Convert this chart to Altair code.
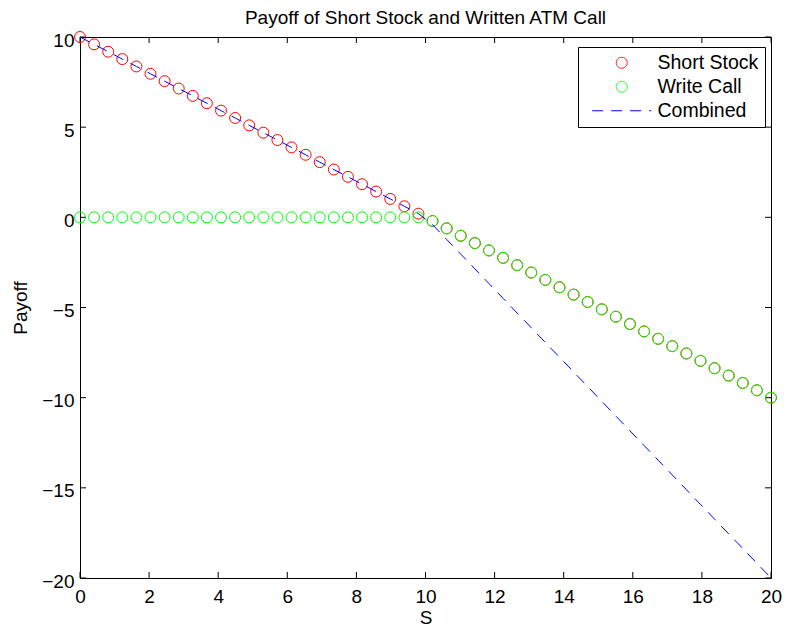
import altair as alt
import pandas as pd

# ---- data ----
S = [0.000, 0.408, 0.816, 1.224, 1.633, 2.041, 2.449, 2.857, 3.265, 3.673,
     4.082, 4.490, 4.898, 5.306, 5.714, 6.122, 6.531, 6.939, 7.347, 7.755,
     8.163, 8.571, 8.980, 9.388, 9.796, 10.204, 10.612, 11.020, 11.429, 11.837,
     12.245, 12.653, 13.061, 13.469, 13.878, 14.286, 14.694, 15.102, 15.510, 15.918,
     16.327, 16.735, 17.143, 17.551, 17.959, 18.367, 18.776, 19.184, 19.592, 20.000]

short_stock = [10.000, 9.592, 9.184, 8.776, 8.367, 7.959, 7.551, 7.143, 6.735, 6.327,
               5.918, 5.510, 5.102, 4.694, 4.286, 3.878, 3.469, 3.061, 2.653, 2.245,
               1.837, 1.429, 1.020, 0.612, 0.204, -0.204, -0.612, -1.020, -1.429, -1.837,
               -2.245, -2.653, -3.061, -3.469, -3.878, -4.286, -4.694, -5.102, -5.510, -5.918,
               -6.327, -6.735, -7.143, -7.551, -7.959, -8.367, -8.776, -9.184, -9.592, -10.000]

write_call = [0, 0, 0, 0, 0, 0, 0, 0, 0, 0,
              0, 0, 0, 0, 0, 0, 0, 0, 0, 0,
              0, 0, 0, 0, 0, -0.204, -0.612, -1.020, -1.429, -1.837,
              -2.245, -2.653, -3.061, -3.469, -3.878, -4.286, -4.694, -5.102, -5.510, -5.918,
              -6.327, -6.735, -7.143, -7.551, -7.959, -8.367, -8.776, -9.184, -9.592, -10.000]

combined = [10.000, 9.592, 9.184, 8.776, 8.367, 7.959, 7.551, 7.143, 6.735, 6.327,
            5.918, 5.510, 5.102, 4.694, 4.286, 3.878, 3.469, 3.061, 2.653, 2.245,
            1.837, 1.429, 1.020, 0.612, 0.204, -0.408, -1.224, -2.041, -2.857, -3.673,
            -4.490, -5.306, -6.122, -6.939, -7.755, -8.571, -9.388, -10.204, -11.020, -11.837,
            -12.653, -13.469, -14.286, -15.102, -15.918, -16.735, -17.551, -18.367, -19.184, -20.000]

x_ticks = [0, 2, 4, 6, 8, 10, 12, 14, 16, 18, 20]
y_ticks = [-20, -15, -10, -5, 0, 5, 10]
series_names = ["Short Stock", "Write Call", "Combined"]
series_colors = ["#ff0000", "#00ff00", "#0000ff"]
title_text = "Payoff of Short Stock and Written ATM Call"

# ---- tables ----
pts = pd.DataFrame({
    "S": S + S,
    "Payoff": short_stock + write_call,
    "series": [series_names[0]] * len(S) + [series_names[1]] * len(S),
})
line_df = pd.DataFrame({"S": S, "Payoff": combined, "series": [series_names[2]] * len(S)})
xt = pd.DataFrame({"S": x_ticks})
yt = pd.DataFrame({"Payoff": y_ticks})

FONT = "Liberation Sans"
W, H = 691, 541
TICK = 6

xscale = alt.Scale(domain=[0, 20], nice=False, zero=False)
yscale = alt.Scale(domain=[-20, 10], nice=False, zero=False)
color_scale = alt.Scale(domain=series_names, range=series_colors)
shape_scale = alt.Scale(domain=series_names, range=["circle", "circle", "M-5.4,0H5.4"])
dash_scale = alt.Scale(domain=series_names, range=[[1, 0], [1, 0], [11, 8]])

legend = alt.Legend(
    title=None, orient="none", legendX=498, legendY=10,
    strokeColor="black", fillColor="white", padding=6, cornerRadius=0,
    labelFont=FONT, labelFontSize=19.5, labelColor="black",
    symbolSize=120, symbolStrokeWidth=1, symbolOffset=28, labelOffset=26,
    rowPadding=3,
)

x_axis = alt.Axis(
    values=x_ticks, title="S", ticks=False, tickSize=0, domain=False, grid=False,
    labelFont=FONT, labelFontSize=19, labelColor="black", labelPadding=24,
    labelBaseline="alphabetic", labelFlush=False, labelOverlap=False, format="d",
    titleFont=FONT, titleFontSize=19, titleFontWeight="normal", titleColor="black",
    titleX=W / 2, titleY=45.5, titleBaseline="alphabetic", titleAlign="center",
)
y_axis = alt.Axis(
    values=y_ticks, title="Payoff", ticks=False, tickSize=0, domain=False, grid=False,
    labelFont=FONT, labelFontSize=19, labelColor="black", labelPadding=6,
    labelFlush=False, labelOverlap=False, format="d", labelOffset=3,
    titleFont=FONT, titleFontSize=19, titleFontWeight="normal", titleColor="black",
    titleAngle=270, titleX=-54, titleY=H / 2, titleBaseline="alphabetic", titleAlign="center",
)

# inward tick marks on all four sides
t_bottom = alt.Chart(xt).mark_rule(color="black", strokeWidth=1).encode(
    x=alt.X("S:Q", scale=xscale, axis=x_axis), y=alt.value(H), y2=alt.value(H - TICK))
t_top = alt.Chart(xt).mark_rule(color="black", strokeWidth=1).encode(
    x=alt.X("S:Q", scale=xscale), y=alt.value(0), y2=alt.value(TICK))
t_left = alt.Chart(yt).mark_rule(color="black", strokeWidth=1).encode(
    y=alt.Y("Payoff:Q", scale=yscale, axis=y_axis), x=alt.value(0), x2=alt.value(TICK))
t_right = alt.Chart(yt).mark_rule(color="black", strokeWidth=1).encode(
    y=alt.Y("Payoff:Q", scale=yscale), x=alt.value(W), x2=alt.value(W - TICK))

points = alt.Chart(pts).mark_point(filled=False, size=120, strokeWidth=1, opacity=1).encode(
    x=alt.X("S:Q", scale=xscale, axis=x_axis),
    y=alt.Y("Payoff:Q", scale=yscale, axis=y_axis),
    color=alt.Color("series:N", scale=color_scale, legend=legend, sort=series_names),
    shape=alt.Shape("series:N", scale=shape_scale, legend=legend, sort=series_names),
    order=alt.Order("idx:Q"),
).transform_calculate(idx="datum.series == 'Short Stock' ? 0 : 1")

line = alt.Chart(line_df).mark_line(strokeWidth=1).encode(
    x=alt.X("S:Q", scale=xscale, axis=x_axis),
    y=alt.Y("Payoff:Q", scale=yscale, axis=y_axis),
    color=alt.Color("series:N", scale=color_scale, legend=legend, sort=series_names),
    strokeDash=alt.StrokeDash("series:N", scale=dash_scale, legend=legend, sort=series_names),
)

chart = alt.layer(t_bottom, t_top, t_left, t_right, points, line).properties(
    width=W, height=H,
    title=alt.TitleParams(text=title_text, font=FONT, fontSize=19, fontWeight="normal",
                          color="black", anchor="middle", baseline="alphabetic",
                          offset=5, dy=18.5, frame="group"),
    autosize=alt.AutoSizeParams(type="none"),
    padding={"left": 72, "top": 29, "right": 11, "bottom": 50},
).configure_view(stroke="black", strokeWidth=1)

chart.save("out.html", embed_options={"renderer": "svg", "actions": False})
